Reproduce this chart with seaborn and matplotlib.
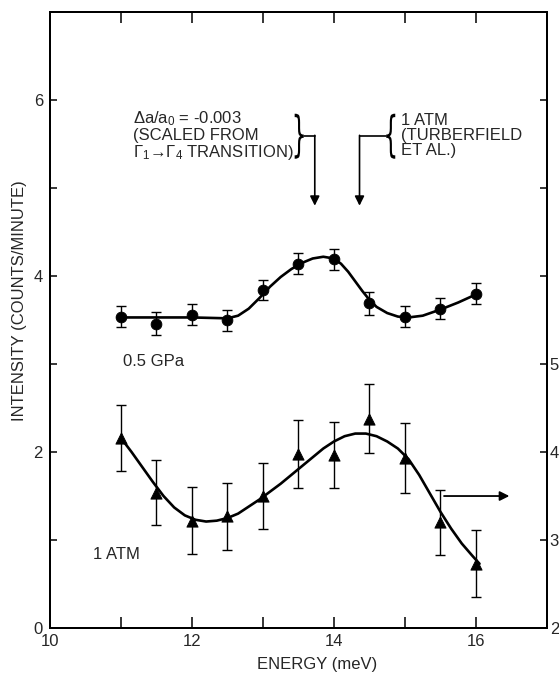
import numpy as np
import pandas as pd
import matplotlib
matplotlib.use("Agg")
import matplotlib.pyplot as plt
import seaborn as sns
from matplotlib.textpath import TextPath
from matplotlib.patches import PathPatch
from matplotlib.font_manager import FontProperties
from matplotlib.transforms import Affine2D

# ---- data ----
energy = [11.0, 11.5, 12.0, 12.5, 13.0, 13.5, 14.0, 14.5, 15.0, 15.5, 16.0]
gpa_int = [3.54, 3.46, 3.56, 3.50, 3.84, 4.14, 4.19, 3.69, 3.54, 3.63, 3.80]
gpa_err = [0.12, 0.13, 0.12, 0.12, 0.11, 0.12, 0.12, 0.13, 0.12, 0.12, 0.12]
atm_int = [2.16, 1.54, 1.22, 1.27, 1.50, 1.98, 1.97, 2.38, 1.93, 1.20, 0.73]
atm_err = [0.38, 0.37, 0.38, 0.38, 0.375, 0.385, 0.375, 0.39, 0.40, 0.37, 0.38]

gpa_fit_x = [10.95, 11.5, 12.0, 12.5, 12.65, 12.8, 12.95, 13.1, 13.25, 13.4, 13.55, 13.7,
             13.85, 14.0, 14.1, 14.2, 14.3, 14.4, 14.5, 14.6, 14.75, 14.9, 15.05, 15.25,
             15.5, 15.75, 16.05]
gpa_fit_y = [3.53, 3.53, 3.53, 3.52, 3.55, 3.63, 3.75, 3.88, 3.99, 4.08, 4.15, 4.20,
             4.22, 4.20, 4.14, 4.05, 3.94, 3.83, 3.73, 3.65, 3.58, 3.54, 3.53, 3.55,
             3.62, 3.70, 3.81]
atm_fit_x = [11.0, 11.15, 11.3, 11.45, 11.6, 11.75, 11.9, 12.05, 12.2, 12.35, 12.5, 12.65,
             12.8, 12.95, 13.1, 13.25, 13.4, 13.55, 13.7, 13.85, 14.0, 14.15, 14.3, 14.45,
             14.6, 14.75, 14.9, 15.05, 15.2, 15.35, 15.5, 15.65, 15.8, 15.95, 16.05]
atm_fit_y = [2.16, 2.00, 1.83, 1.66, 1.50, 1.37, 1.28, 1.23, 1.21, 1.22, 1.25, 1.30,
             1.38, 1.46, 1.55, 1.64, 1.74, 1.84, 1.94, 2.04, 2.12, 2.18, 2.21, 2.21,
             2.18, 2.12, 2.04, 1.92, 1.74, 1.53, 1.32, 1.13, 0.96, 0.82, 0.73]

x_ticks_major = [10, 12, 14, 16]
left_labels = ["0", "", "2", "", "4", "", "6"]
right_labels = ["2", "3", "4", "5", "", "", ""]

sns.set_theme(style="ticks")
plt.rcParams["font.family"] = ["Liberation Sans", "DejaVu Sans"]
plt.rcParams["mathtext.fontset"] = "custom"
plt.rcParams["mathtext.rm"] = "Liberation Sans"
plt.rcParams["mathtext.it"] = "Liberation Sans:italic"

fig = plt.figure(figsize=(5.59, 6.77), dpi=100)
ax = fig.add_axes([0.0893, 0.0724, 0.8892, 0.9096])

df_gpa = pd.DataFrame({"E": energy, "I": gpa_int, "err": gpa_err})
df_atm = pd.DataFrame({"E": energy, "I": atm_int, "err": atm_err})
fit_gpa = pd.DataFrame({"E": gpa_fit_x, "I": gpa_fit_y})
fit_atm = pd.DataFrame({"E": atm_fit_x, "I": atm_fit_y})

sns.lineplot(data=fit_gpa, x="E", y="I", ax=ax, color="black", lw=1.9, sort=False)
sns.lineplot(data=fit_atm, x="E", y="I", ax=ax, color="black", lw=1.9, sort=False)

ax.errorbar(df_gpa["E"], df_gpa["I"], yerr=df_gpa["err"], fmt="none", ecolor="black",
            elinewidth=1.0, capsize=3.5, capthick=1.0)
ax.errorbar(df_atm["E"], df_atm["I"], yerr=df_atm["err"], fmt="none", ecolor="black",
            elinewidth=1.0, capsize=3.5, capthick=1.0)
sns.scatterplot(data=df_gpa, x="E", y="I", ax=ax, marker="o", s=60, color="black",
                edgecolor="black", zorder=5)
sns.scatterplot(data=df_atm, x="E", y="I", ax=ax, marker="^", s=65, color="black",
                edgecolor="black", zorder=5)

ax.set_xlim(10, 17)
ax.set_ylim(0, 7)
ax.set_xticks(range(10, 18))
ax.set_xticklabels([str(v) if v in x_ticks_major else "" for v in range(10, 18)])
ax.set_yticks(range(0, 7))
ax.set_yticklabels(left_labels)
ax.tick_params(axis="x", which="both", direction="in", length=8, width=1.1,
               top=True, labelsize=12, pad=4, color="black")
ax.tick_params(axis="y", direction="in", length=5, width=1.1, labelsize=12, pad=5,
               color="black")
for s in ax.spines.values():
    s.set_linewidth(1.4)
    s.set_color("black")

ax2 = ax.twinx()
ax2.set_ylim(2, 9)
ax2.set_yticks(range(2, 9))
ax2.set_yticklabels(right_labels)
ax2.tick_params(axis="y", direction="in", length=5, width=1.1, labelsize=12, pad=2,
                color="black")
for s in ax2.spines.values():
    s.set_linewidth(1.4)
    s.set_color("black")

ax.set_xlabel("ENERGY (meV)", fontsize=12, va="top")
ax.xaxis.set_label_coords(0.537, -0.047)
ax.set_ylabel("INTENSITY (COUNTS/MINUTE)", fontsize=12)
ax.yaxis.set_label_coords(-0.046, 0.531)

# labels
ax.text(11.03, 3.03, "0.5 GPa", fontsize=12, va="center", ha="left")
ax.text(10.61, 0.83, "1 ATM", fontsize=12, va="center", ha="left")


def brace(char, x, y, height_px, width_px):
    tp = TextPath((0, 0), char, size=50, prop=FontProperties(family="DejaVu Sans"))
    ext = tp.get_extents()
    px, py = ax.transData.transform((x, y))
    tr = (Affine2D().translate(-(ext.x0 + ext.width / 2), -(ext.y0 + ext.height / 2))
          .scale(width_px / ext.width, height_px / ext.height).translate(px, py))
    fig.add_artist(PathPatch(tp, transform=tr, facecolor="black", edgecolor="none"))


# annotation left
ax.text(11.17, 5.60,
        "Δa/a$_0$ = -0.003\n(SCALED FROM\nΓ$_1$→Γ$_4$ TRANSITION)",
        fontsize=12, va="center", ha="left", linespacing=1.0)
brace("}", 13.51, 5.59, 45, 9)
ax.plot([13.58, 13.73], [5.59, 5.59], color="black", lw=1.2)
ax.annotate("", xy=(13.73, 4.80), xytext=(13.73, 5.60),
            arrowprops=dict(arrowstyle="-|>", lw=1.2, color="black", mutation_scale=14,
                            shrinkA=0, shrinkB=0))
# annotation right
brace("{", 14.80, 5.59, 45, 9)
ax.plot([14.36, 14.73], [5.59, 5.59], color="black", lw=1.2)
ax.annotate("", xy=(14.36, 4.80), xytext=(14.36, 5.60),
            arrowprops=dict(arrowstyle="-|>", lw=1.2, color="black", mutation_scale=14,
                            shrinkA=0, shrinkB=0))
ax.text(14.95, 5.60, "1 ATM\n(TURBERFIELD\nET AL.)", fontsize=12, va="center", ha="left",
        linespacing=1.0)

# right arrow
ax.annotate("", xy=(16.47, 1.50), xytext=(15.55, 1.50),
            arrowprops=dict(arrowstyle="-|>", lw=1.3, color="black", mutation_scale=14,
                            shrinkA=0, shrinkB=0))

fig.savefig("out.png", dpi=100)
